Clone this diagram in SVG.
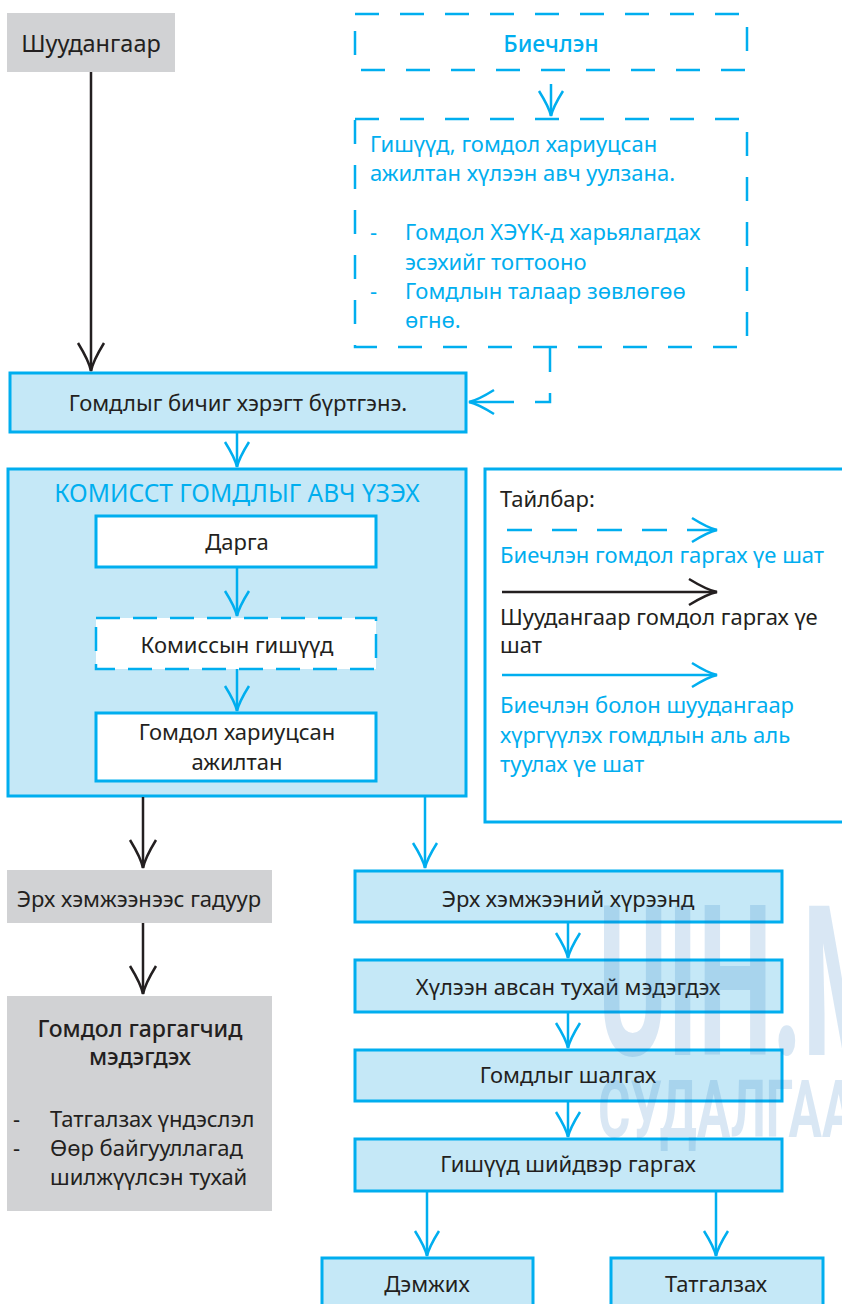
<svg xmlns="http://www.w3.org/2000/svg" width="842" height="1304" viewBox="0 0 842 1304">
<defs>
<style>
text{font-family:"Noto Sans","Open Sans","Liberation Sans",sans-serif;font-size:22px;fill:#231F20}
.c{text-anchor:middle}
.b{fill:#00AEEF}
.box{fill:#C5E8F7;stroke:#00AEEF;stroke-width:3}
.wbox{fill:#FFFFFF;stroke:#00AEEF;stroke-width:3}
.gray{fill:#D1D2D4}
.dash{fill:none;stroke:#00AEEF;stroke-width:2.5;stroke-dasharray:24 21}
.bl{fill:none;stroke:#00AEEF;stroke-width:2.5;marker-end:url(#ab)}
.bk{fill:none;stroke:#231F20;stroke-width:2.5;marker-end:url(#ak)}
.wm{font-family:"Roboto","Liberation Sans",sans-serif;font-weight:bold;fill:#1E6EBE;fill-opacity:0.17}
.wm1{font-size:210px}
.wm2{font-size:80px}
.t23{font-size:23.5px}
.hd{font-size:23px;font-weight:500}
.ti{font-size:24.5px}
</style>
<marker id="ab" viewBox="-30 -15 32 30" markerWidth="32" markerHeight="30" refX="0" refY="0" markerUnits="userSpaceOnUse" orient="auto">
<path d="M-25,-12 Q-9,-2 0,0 Q-9,2 -25,12" fill="none" stroke="#00AEEF" stroke-width="2.5"/>
</marker>
<marker id="ak" viewBox="-32 -16 34 32" markerWidth="34" markerHeight="32" refX="0" refY="0" markerUnits="userSpaceOnUse" orient="auto">
<path d="M-28,-13 Q-10,-2 0,0 Q-10,2 -28,13" fill="none" stroke="#231F20" stroke-width="2.5"/>
</marker>
</defs>
<rect width="842" height="1304" fill="#FFFFFF"/>

<g id="n-shuudangaar"><rect class="gray" x="7" y="13" width="168" height="59"/><text class="c t23" x="91" y="52">Шуудангаар</text></g>
<g id="n-biechlen"><rect class="dash" x="355" y="14" width="392" height="56"/><text class="c b hd" x="551" y="52">Биечлэн</text></g>
<g id="n-uulzana"><rect class="dash" x="355" y="119" width="392" height="228"/>
<text class="b" x="370" y="152">Гишүүд, гомдол хариуцсан</text>
<text class="b" x="370" y="181">ажилтан хүлээн авч уулзана.</text>
<text class="b" x="370" y="240">-</text><text class="b" x="405" y="240">Гомдол ХЭҮК-д харьялагдах</text>
<text class="b" x="405" y="270">эсэхийг тогтооно</text>
<text class="b" x="370" y="299">-</text><text class="b" x="405" y="299">Гомдлын талаар зөвлөгөө</text>
<text class="b" x="405" y="328">өгнө.</text>
</g>
<g id="n-burtgene"><rect class="box" x="10" y="373" width="456" height="59"/><text class="c" x="238" y="411">Гомдлыг бичиг хэрэгт бүртгэнэ.</text></g>
<g id="n-komiss"><rect class="box" x="8" y="469" width="458" height="327"/><text class="c b ti" x="237" y="502">КОМИССТ ГОМДЛЫГ АВЧ ҮЗЭХ</text></g>
<g id="n-darga"><rect class="wbox" x="96" y="516" width="280" height="51"/><text class="c" x="237" y="550">Дарга</text></g>
<g id="n-gishuud"><rect x="96" y="618" width="280" height="51" fill="#FFFFFF" stroke="#00AEEF" stroke-width="2.5" stroke-dasharray="24 13"/><text class="c" x="237" y="653">Комиссын гишүүд</text></g>
<g id="n-ajiltan"><rect class="wbox" x="96" y="713" width="280" height="68"/><text class="c" x="237" y="740">Гомдол хариуцсан</text><text class="c" x="237" y="770">ажилтан</text></g>

<g id="legend"><rect x="485" y="469" width="360" height="353" fill="#FFFFFF" stroke="#00AEEF" stroke-width="3"/>
<text x="500" y="507">Тайлбар:</text>
<path d="M507,530 H690" fill="none" stroke="#00AEEF" stroke-width="2.5" stroke-dasharray="25 20"/>
<path d="M690,530 H717" class="bl"/>
<text class="b" x="500" y="563">Биечлэн гомдол гаргах үе шат</text>
<path d="M502,592 H717" class="bk"/>
<text x="500" y="625">Шуудангаар гомдол гаргах үе</text>
<text x="500" y="653">шат</text>
<path d="M502,675 H717" class="bl"/>
<text class="b" x="500" y="713">Биечлэн болон шуудангаар</text>
<text class="b" x="500" y="743">хүргүүлэх гомдлын аль аль</text>
<text class="b" x="500" y="772">туулах үе шат</text>
</g>

<g id="n-gaduur"><rect class="gray" x="7" y="870" width="265" height="53"/><text class="c" x="139" y="907">Эрх хэмжээнээс гадуур</text></g>
<g id="n-medegdeh1"><rect class="gray" x="7" y="996" width="265" height="215"/>
<text class="c hd" x="140" y="1037">Гомдол гаргагчид</text>
<text class="c hd" x="140" y="1065">мэдэгдэх</text>
<text x="13" y="1127">-</text><text x="50" y="1127">Татгалзах үндэслэл</text>
<text x="13" y="1156">-</text><text x="50" y="1156">Өөр байгууллагад</text>
<text x="50" y="1185">шилжүүлсэн тухай</text>
</g>
<g id="n-hureend"><rect class="box" x="355" y="871" width="427" height="51"/><text class="c" x="568" y="907">Эрх хэмжээний хүрээнд</text></g>
<g id="n-huleen"><rect class="box" x="355" y="960" width="427" height="52"/><text class="c" x="568" y="995">Хүлээн авсан тухай мэдэгдэх</text></g>
<g id="n-shalgah"><rect class="box" x="355" y="1050" width="427" height="51"/><text class="c" x="568" y="1083">Гомдлыг шалгах</text></g>
<g id="n-shiidver"><rect class="box" x="355" y="1139" width="427" height="52"/><text class="c" x="568" y="1172">Гишүүд шийдвэр гаргах</text></g>
<g id="n-demjih"><rect class="box" x="322" y="1258" width="211" height="60"/><text class="c" x="427" y="1292">Дэмжих</text></g>
<g id="n-tatgalzah"><rect class="box" x="611" y="1258" width="212" height="60"/><text class="c" x="716" y="1292">Татгалзах</text></g>

<g id="connectors">
<path class="bl" d="M551,84 V116"/>
<path class="dash" d="M550,348 V402 H500"/>
<path class="bl" d="M500,402 H469"/>
<path class="bk" d="M91,72 V371"/>
<path class="bl" d="M237,433 V467"/>
<path class="bl" d="M237,567 V616"/>
<path class="bl" d="M237,669 V711"/>
<path class="bk" d="M143,797 V868"/>
<path class="bl" d="M425,797 V868"/>
<path class="bk" d="M143,923 V994"/>
<path class="bl" d="M568,922 V958"/>
<path class="bl" d="M568,1012 V1048"/>
<path class="bl" d="M568,1101 V1137"/>
<path class="bl" d="M427,1191 V1256"/>
<path class="bl" d="M716,1191 V1256"/>
</g>

<g id="watermark">
<text class="wm wm1" x="0" y="0" transform="translate(598,1055) scale(0.5,1)">UIH.MN</text>
<text class="wm wm2" x="0" y="0" transform="translate(598,1137) scale(0.62,1)">СУДАЛГАА</text>
</g>
</svg>
